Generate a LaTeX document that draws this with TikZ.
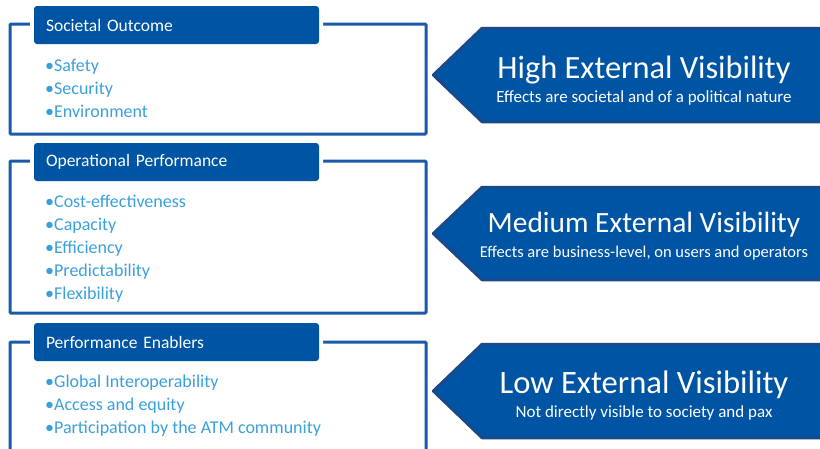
\documentclass[tikz,border=0pt]{standalone}
\usepackage{fontspec}
\setmainfont{Carlito}
\definecolor{headBlue}{RGB}{0,84,164}
\definecolor{frameBlue}{RGB}{26,90,168}
\definecolor{itemBlue}{RGB}{58,160,220}
\definecolor{edgeBlue}{RGB}{29,71,133}
\begin{document}
\begin{tikzpicture}
            [x=1pt, y=-1pt,
             myFrame/.style={rectangle,
                        draw=frameBlue,
                        line width=3pt,
                        rounded corners=1pt,
                        inner sep=0pt,
                        minimum width=416pt},
             myHead/.style={rectangle,
                        fill=headBlue,
                        rounded corners=3pt,
                        preaction={draw=white, line width=8pt},
                        text=white,
                        font=\fontsize{17.5}{20}\selectfont,
                        inner xsep=12pt, inner ysep=0pt,
                        text width=261pt, align=left,
                        minimum height=38pt},
             myItems/.style={anchor=west,
                        align=left,
                        inner sep=0pt,
                        text=itemBlue,
                        font=\fontsize{18}{23}\selectfont},
             myArrow/.style={draw=edgeBlue,
                        line width=2.5pt,
                        line join=bevel,
                        fill=headBlue},
             myTitle/.style={text=white, font=\fontsize{32.4}{36}\selectfont},
             mySub/.style={text=white, font=\fontsize{17}{20}\selectfont}]

            \clip (0,0) rectangle (820,448);

            \node[myFrame, minimum height=110pt] (outcomeFrame) at (218, 79) {};
            \node[myFrame, minimum height=152pt] (operationalFrame) at (218, 237) {};
            \node[myFrame, minimum height=118pt] (enablersFrame) at (218, 401) {};

            \node[myHead] (outcomeHead) at (176.5, 25) {Societal Outcome};
            \node[myHead] (operationalHead) at (176.5, 162) {Operational Performance};
            \node[myHead] (enablersHead) at (176.5, 342) {Performance Enablers};

            \node[myItems] (outcomeItems) at (45, 88.5) {•Safety\\•Security\\•Environment};
            \node[myItems] (operationalItems) at (45, 248.5) {•Cost-effectiveness\\•Capacity\\•Efficiency\\•Predictability\\•Flexibility};
            \node[myItems] (enablersItems) at (45, 405.5) {•Global Interoperability\\•Access and equity\\•Participation by the ATM community};

            \draw[myArrow] (826, 28) -- (482, 28) -- (433, 75) -- (482, 122) -- (826, 122) -- cycle;
            \draw[myArrow] (826, 187) -- (482, 187) -- (433, 233.5) -- (482, 280) -- (826, 280) -- cycle;
            \draw[myArrow] (826, 344) -- (482, 344) -- (433, 391) -- (482, 438) -- (826, 438) -- cycle;

            \node[myTitle] (highTitle) at (644, 70) {High External Visibility};
            \node[mySub] (highSub) at (644, 98) {Effects are societal and of a political nature};
            \node[myTitle, font=\fontsize{29.4}{34}\selectfont] (mediumTitle) at (644, 225) {Medium External Visibility};
            \node[mySub, font=\fontsize{16.5}{20}\selectfont] (mediumSub) at (644, 253) {Effects are business-level, on users and operators};
            \node[myTitle, font=\fontsize{32.6}{36}\selectfont] (lowTitle) at (644, 385) {Low External Visibility};
            \node[mySub] (lowSub) at (644, 413) {Not directly visible to society and pax};
        \end{tikzpicture}
\end{document}
